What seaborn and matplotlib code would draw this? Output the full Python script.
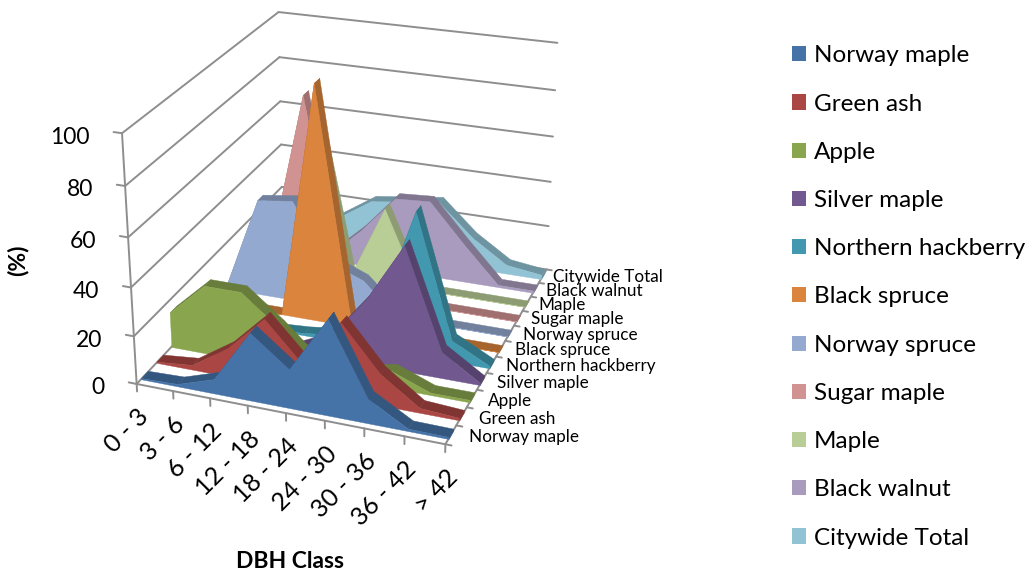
import numpy as np
import matplotlib
matplotlib.use('Agg')
import matplotlib.pyplot as plt
from matplotlib.patches import Patch
from mpl_toolkits.mplot3d import proj3d
from mpl_toolkits.mplot3d.art3d import Poly3DCollection
import seaborn as sns

dbh_classes = ['0 - 3', '3 - 6', '6 - 12', '12 - 18', '18 - 24', '24 - 30', '30 - 36', '36 - 42', '> 42']
pct_ticks = [0, 20, 40, 60, 80, 100]

species = ['Norway maple', 'Green ash', 'Apple', 'Silver maple', 'Northern hackberry', 'Black spruce',
           'Norway spruce', 'Sugar maple', 'Maple', 'Black walnut', 'Citywide Total']
norway_maple = [0.5, 1, 6, 28, 16, 39, 10, 1, 0.8]
green_ash = [0.5, 2, 12, 27, 11, 31, 13, 2, 1]
apple = [15, 29, 29, 17, 3, 4, 7, 1, 1]
silver_maple = [0, 0, 0.5, 1, 8, 27, 52, 11, 1]
hackberry = [0, 0, 0, 1, 3, 15, 60, 9, 1]
black_spruce = [0, 0, 0, 100, 0, 0, 0, 0, 0]
norway_spruce = [1, 42, 44, 20, 14, 0, 0, 0, 0]
sugar_maple = [0, 16, 84, 5, 0, 0, 0, 0, 0]
maple = [0, 0, 75, 1, 34, 0, 0, 0, 0]
black_walnut = [0, 0, 2, 16, 33, 34, 17, 1, 1]
citywide = [1, 5, 14, 24, 26, 28, 14, 4, 2]
all_series = [norway_maple, green_ash, apple, silver_maple, hackberry, black_spruce,
              norway_spruce, sugar_maple, maple, black_walnut, citywide]
colors = ['#4573A7', '#AA4643', '#89A54E', '#71588F', '#4198AF', '#DB843D',
          '#93A9CF', '#D19392', '#B9CD96', '#A99BBD', '#92C3D4']

W, H = 1031, 575
GRID = '#8E8E8E'
FONT = ['Lato', 'DejaVu Sans']

sns.set_theme(style='white')
plt.rcParams['font.family'] = FONT
palette = sns.color_palette(colors)

fig = plt.figure(figsize=(W / 100, H / 100), dpi=100)
ax = fig.add_axes([0, 0, 1, 1], projection='3d')
ax.set_anchor('W')
ax.set_axis_off()
ax.set_proj_type('ortho')  # stops Line3D masking points, the real camera is M below
ax.computed_zorder = False
ax.set_autoscale_on(False)
ax.set_xlim(0, 8)
ax.set_ylim(0, 11)
ax.set_zlim(0, 100)

# the Excel camera: box corners (data) -> where they sit in the reference (pixels)
calib = [((0, 0, 0), (136, 384)), ((8, 0, 0), (445, 444)), ((8, 11, 0), (547, 269)),
         ((0, 11, 0), (283, 228)), ((0, 0, 100), (122, 133)), ((0, 11, 100), (278, 12)),
         ((8, 11, 100), (558, 43)), ((8, 11, 40), (550, 182)), ((0, 11, 40), (281, 145)),
         ((0, 0, 40), (132, 287)), ((4, 0, 0), (286, 414))]
rows = []
for (x, y, z), (u, v) in calib:
    rows.append([x, y, z, 1, 0, 0, 0, 0, -u * x, -u * y, -u * z, -u])
    rows.append([0, 0, 0, 0, x, y, z, 1, -v * x, -v * y, -v * z, -v])
P = np.linalg.svd(np.array(rows, dtype=float))[2][-1].reshape(3, 4)
if P[2, 3] < 0:
    P = -P

ax.apply_aspect()
to_disp = np.array([[1, 0, 0], [0, -1, H], [0, 0, 1.0]])
P2 = ax.transData.inverted().get_matrix() @ to_disp @ P
M = np.vstack([P2[0], P2[1], [0, 1e-3, 0, 0], P2[2]])
ax.get_proj = lambda: M


def seg(a, b):
    ax.plot([a[0], b[0]], [a[1], b[1]], [a[2], b[2]], color=GRID, lw=1.4, zorder=1)


# walls and floor
for z in pct_ticks:
    seg((0, 0, z), (0, 11, z))
    seg((0, 11, z), (8, 11, z))
    seg((-0.22, 0, z), (0, 0, z))
seg((0, 0, 0), (0, 0, 100))
seg((0, 0, 0), (8, 0, 0))
seg((8, 0, 0), (8, 11, 0))
for i in range(len(dbh_classes)):
    seg((i, 0, 0), (i, 0, -3.2))
for j in range(len(species) + 1):
    seg((8, j, 0), (8.15, j, 0))

# back series first, painter style
order = 2
xs = np.arange(len(dbh_classes))
for j in reversed(range(len(species))):
    vals = all_series[j]
    y0, y1 = j + 0.28, j + 0.72
    c = palette[j]
    dark = tuple(np.array(c) * 0.76)
    for i in range(len(vals) - 1):
        strip = [(xs[i], y0, vals[i]), (xs[i + 1], y0, vals[i + 1]), (xs[i + 1], y1, vals[i + 1]), (xs[i], y1, vals[i])]
        ax.add_collection3d(Poly3DCollection([strip], facecolors=dark, edgecolors=dark, linewidths=0.3, zorder=order), autolim=False)
        order += 1
    cap = [(8, y0, 0), (8, y0, vals[-1]), (8, y1, vals[-1]), (8, y1, 0)]
    ax.add_collection3d(Poly3DCollection([cap], facecolors=dark, edgecolors=dark, linewidths=0.3, zorder=order), autolim=False)
    order += 1
    face = [(0, y0, 0)] + [(x, y0, v) for x, v in zip(xs, vals)] + [(8, y0, 0)]
    ax.add_collection3d(Poly3DCollection([face], facecolors=[c], edgecolors=[c], linewidths=0.3, zorder=order), autolim=False)
    order += 1

# tick labels
for z in pct_ticks:
    u, v, _ = proj3d.proj_transform(0, 0, z, M)
    ax.annotate(str(z), xy=(u, v), xycoords='data', xytext=(-32, -4), textcoords='offset pixels',
                ha='right', va='center', fontsize=16.5, color='black', zorder=900)
for i, lab in enumerate(dbh_classes):
    u, v, _ = proj3d.proj_transform(i, 0, 0, M)
    ax.annotate(lab, xy=(u, v), xycoords='data', xytext=(0, -21), textcoords='offset pixels', rotation=45,
                rotation_mode='anchor', ha='right', va='top', fontsize=18, color='black', zorder=900)
for j, lab in enumerate(species):
    ax.text(8.43 - 0.015 * j, j + 0.55, 0, lab, ha='left', va='center', fontsize=12.3, color='black', zorder=900)

fig.text(18 / W, 1 - 260 / H, '(%)', rotation=90, ha='center', va='center', fontsize=16.5, fontweight='bold', color='black')
fig.text(290 / W, 1 - 562 / H, 'DBH Class', ha='center', va='center', fontsize=16.5, fontweight='bold', color='black')

handles = [Patch(facecolor=c, edgecolor='none') for c in palette]
fig.legend(handles, species, loc='center left', bbox_to_anchor=(792 / W, 1 - 297 / H), frameon=False,
           fontsize=17.5, labelspacing=1.12, handlelength=0.58, handleheight=0.58, handletextpad=0.33,
           labelcolor='black', borderpad=0, borderaxespad=0)

fig.savefig('out.png', dpi=100)
